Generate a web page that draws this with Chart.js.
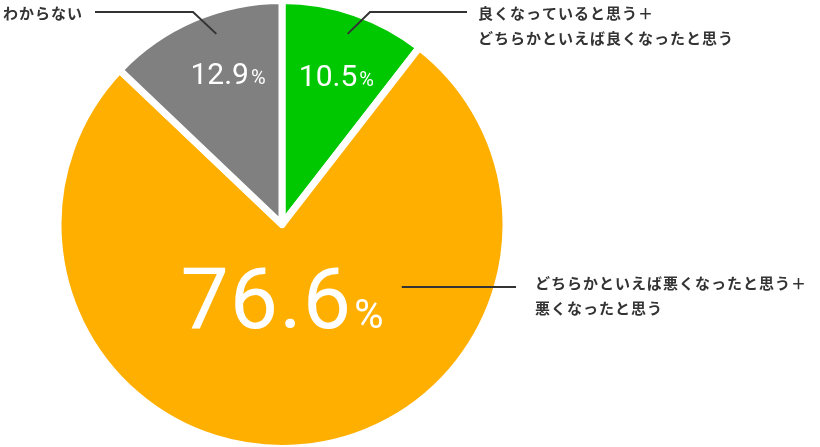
<!DOCTYPE html>
<html>
<head>
<meta charset="utf-8">
<script src="https://cdn.jsdelivr.net/npm/chart.js@4"></script>
<style>
  body { margin: 0; background: #fff; }
  canvas { display: block; }
</style>
</head>
<body>
<canvas id="myPieChart" width="820" height="447"></canvas>
<script>
// Data
const categories = [
  ["良くなっていると思う＋", "どちらかといえば良くなったと思う"],
  ["どちらかといえば悪くなったと思う＋", "悪くなったと思う"],
  ["わからない"],
];
const values = [10.5, 76.6, 12.9];
const valueLabels = ["10.5", "76.6", "12.9"];
const colors = ["#00c800", "#ffaf00", "#808080"];

const JP_FONT = "'Noto Sans CJK JP', 'Noto Sans', sans-serif";
const NUM_FONT = "Roboto, 'Open Sans', sans-serif";

// draws percentages inside slices and callout labels
const labelPlugin = {
  id: "labels",
  afterDraw(chart) {
    const ctx = chart.ctx;
    const arcs = chart.getDatasetMeta(0).data;
    const deg = (d) => ((d - 90) * Math.PI) / 180;

    // percent labels (angle from top, radius fraction)
    const pct = [
      { a: 20, r: 0.71, size: 30, psize: 20, ls: 0 },
      { a: 180, r: 0.325, size: 86, psize: 40, ls: 1 },
      { a: -19.7, r: 0.715, size: 30, psize: 20, ls: 0 },
    ];
    arcs.forEach((arc, i) => {
      const ang = deg(pct[i].a);
      const rr = arc.outerRadius * pct[i].r;
      const x = arc.x + Math.cos(ang) * rr;
      const y = arc.y + Math.sin(ang) * rr;
      ctx.save();
      ctx.fillStyle = "#fff";
      ctx.textBaseline = "alphabetic";
      ctx.textAlign = "left";
      ctx.font = "400 " + pct[i].size + "px " + NUM_FONT;
      ctx.letterSpacing = pct[i].ls + "px";
      const w1 = ctx.measureText(valueLabels[i]).width;
      ctx.font = "400 " + pct[i].psize + "px " + NUM_FONT;
      ctx.letterSpacing = "0px";
      const w2 = ctx.measureText("%").width;
      const left = x - (w1 + w2 + 2) / 2;
      const base = y + pct[i].size * 0.355;
      ctx.font = "400 " + pct[i].size + "px " + NUM_FONT;
      ctx.letterSpacing = pct[i].ls + "px";
      ctx.fillText(valueLabels[i], left, base);
      ctx.font = "400 " + pct[i].psize + "px " + NUM_FONT;
      ctx.letterSpacing = "0px";
      ctx.fillText("%", left + w1 + 2, base);
      ctx.restore();
    });

    // callouts
    const g = arcs[0], o = arcs[1], k = arcs[2];
    const pt = (arc, a, f) => ({
      x: arc.x + Math.cos(deg(a)) * arc.outerRadius * f,
      y: arc.y + Math.sin(deg(a)) * arc.outerRadius * f,
    });

    ctx.save();
    ctx.strokeStyle = "#333";
    ctx.lineWidth = 2;
    // green
    let p = pt(g, 19, 0.9);
    ctx.beginPath();
    ctx.moveTo(p.x, p.y);
    ctx.lineTo(370, 12);
    ctx.lineTo(467, 12);
    ctx.stroke();
    // gray
    p = pt(k, -19, 0.9);
    ctx.beginPath();
    ctx.moveTo(p.x, p.y);
    ctx.lineTo(193, 12);
    ctx.lineTo(95, 12);
    ctx.stroke();
    // orange
    p = pt(o, 117, 0.6);
    ctx.beginPath();
    ctx.moveTo(p.x, 287);
    ctx.lineTo(516, 287);
    ctx.stroke();

    ctx.fillStyle = "#333";
    ctx.font = "bold 15px " + JP_FONT;
    ctx.letterSpacing = "1px";
    ctx.textBaseline = "middle";
    ctx.textAlign = "left";
    ctx.fillText(categories[0][0], 478, 13);
    ctx.fillText(categories[0][1], 478, 38);
    ctx.fillText(categories[1][0], 535, 283);
    ctx.fillText(categories[1][1], 535, 308);
    ctx.fillText(categories[2][0], 3, 13);
    ctx.restore();
  },
};

const ctx = document.getElementById("myPieChart").getContext("2d");
const myPieChart = new Chart(ctx, {
  type: "pie",
  data: {
    labels: categories.map((c) => c.join("")),
    datasets: [
      {
        data: values,
        backgroundColor: colors,
        borderColor: "#ffffff",
        borderWidth: 7,
        borderJoinStyle: "round",
      },
    ],
  },
  options: {
    responsive: false,
    animation: false,
    radius: 224,
    layout: { padding: { left: 60, right: 316, top: 2, bottom: 0 } },
    plugins: {
      legend: { display: false },
      tooltip: { enabled: false },
    },
  },
  plugins: [labelPlugin],
});
</script>
</body>
</html>
